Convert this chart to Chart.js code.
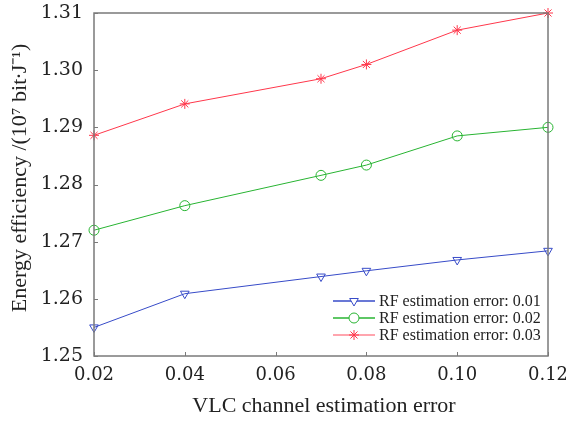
<!DOCTYPE html>
<html>
<head>
<meta charset="utf-8">
<script src="https://cdn.jsdelivr.net/npm/chart.js@4.4.0/dist/chart.umd.min.js"></script>
<style>
  html, body { margin: 0; padding: 0; background: #fff; }
  #wrap { width: 566px; height: 421px; }
</style>
</head>
<body>
<div id="wrap"><canvas id="myChart" width="566" height="421"></canvas></div>
<script>
// x values (VLC channel estimation error)
const xValues = [0.02, 0.04, 0.07, 0.08, 0.10, 0.12];
// energy efficiency per RF estimation error
const rf001 = [1.2550, 1.2609, 1.2639, 1.2649, 1.2668, 1.2684];
const rf002 = [1.2720, 1.2763, 1.2816, 1.2834, 1.2885, 1.2900];
const rf003 = [1.2886, 1.2941, 1.2985, 1.3010, 1.3070, 1.3100];
const seriesNames = ["RF estimation error: 0.01", "RF estimation error: 0.02", "RF estimation error: 0.03"];
// tick labels
const xTicks = [0.02, 0.04, 0.06, 0.08, 0.10, 0.12];
const yTicks = [1.25, 1.26, 1.27, 1.28, 1.29, 1.30, 1.31];

const FONT = "'DejaVu Serif', serif";
const FONT2 = "'Liberation Serif', serif";
const AXIS = "#7a7a7a";
const COLORS = ["rgb(55, 75, 200)", "rgb(40, 180, 50)", "rgb(255, 55, 75)"];

function toPoints(ys) {
    return xValues.map((x, i) => ({ x: x, y: ys[i] }));
}

const datasets = [
    { label: seriesNames[0], data: toPoints(rf001), borderColor: COLORS[0], pointStyle: "triangle", rotation: 180, pointRadius: 5 },
    { label: seriesNames[1], data: toPoints(rf002), borderColor: COLORS[1], pointStyle: "circle", rotation: 0, pointRadius: 5 },
    { label: seriesNames[2], data: toPoints(rf003), borderColor: COLORS[2], pointStyle: "star", rotation: 0, pointRadius: 5 },
].map((d) => Object.assign(d, {
    borderWidth: 1,
    pointBorderColor: d.borderColor,
    pointBackgroundColor: "rgba(0,0,0,0)",
    pointBorderWidth: 1,
    tension: 0,
    clip: false,
}));

// draws the box, inward ticks, axis titles and the legend
const decor = {
    id: "decor",
    afterDatasetsDraw(chart) {
        const ctx = chart.ctx;
        const a = chart.chartArea;
        const xs = chart.scales.x, ys = chart.scales.y;
        ctx.save();
        ctx.strokeStyle = AXIS;
        ctx.lineWidth = 1.5;
        ctx.strokeRect(a.left, a.top, a.right - a.left, a.bottom - a.top);
        ctx.lineWidth = 1;
        ctx.beginPath();
        xTicks.forEach((v) => {
            const px = Math.round(xs.getPixelForValue(v)) + 0.5;
            ctx.moveTo(px, a.bottom); ctx.lineTo(px, a.bottom - 4);
        });
        yTicks.forEach((v) => {
            const py = Math.round(ys.getPixelForValue(v)) + 0.5;
            ctx.moveTo(a.left, py); ctx.lineTo(a.left + 4, py);
        });
        ctx.stroke();

        // axis titles
        ctx.fillStyle = "#222";
        ctx.font = "22px " + FONT2;
        ctx.textAlign = "center";
        ctx.textBaseline = "middle";
        ctx.fillText("VLC channel estimation error", 324, 406);
        ctx.save();
        ctx.translate(20, 178);
        ctx.rotate(-Math.PI / 2);
        ctx.fillText("Energy efficiency /(10\u2077 bit\u2219J\u207B\u00B9)", 0, 0);
        ctx.restore();

        // legend
        ctx.font = "16px " + FONT2;
        ctx.textAlign = "left";
        const rows = [301, 318, 335];
        chart.data.datasets.forEach((d, i) => {
            const y = rows[i];
            ctx.strokeStyle = i === 2 ? "rgba(255, 55, 75, 0.6)" : d.borderColor;
            ctx.lineWidth = 1.5;
            ctx.beginPath();
            ctx.moveTo(333, y); ctx.lineTo(375, y);
            ctx.stroke();
            ctx.lineWidth = 1;
            ctx.strokeStyle = d.borderColor;
            ctx.fillStyle = "#fff";
            Chart.helpers.drawPoint(ctx, { pointStyle: d.pointStyle, rotation: d.rotation, radius: 5, borderWidth: 1 }, 354, y);
            ctx.fillStyle = "#222";
            ctx.fillText(d.label, 379, y + 1);
        });
        ctx.restore();
    },
};

const config = {
    type: "line",
    data: { datasets: datasets },
    options: {
        responsive: false,
        animation: false,
        layout: { padding: { top: 13, right: 18, left: 0, bottom: 0 } },
        plugins: { legend: { display: false }, tooltip: { enabled: false } },
        scales: {
            x: {
                type: "linear",
                min: 0.02,
                max: 0.12,
                afterBuildTicks: (s) => { s.ticks = xTicks.map((v) => ({ value: v })); },
                afterFit: (s) => { s.height = 65; s.paddingRight = 0; s.paddingLeft = 0; },
                grid: { display: false },
                border: { display: false },
                ticks: {
                    color: "#222",
                    padding: 1,
                    maxRotation: 0,
                    font: { family: FONT, size: 18 },
                    callback: (v) => Number(v).toFixed(2),
                },
            },
            y: {
                min: 1.25,
                max: 1.31,
                afterBuildTicks: (s) => { s.ticks = yTicks.map((v) => ({ value: v })); },
                afterFit: (s) => { s.width = 94; s.paddingTop = 0; s.paddingBottom = 0; },
                grid: { display: false },
                border: { display: false },
                ticks: {
                    color: "#222",
                    padding: 3,
                    font: { family: FONT, size: 19 },
                    callback: (v) => Number(v).toFixed(2),
                },
            },
        },
    },
    plugins: [decor],
};

window.onload = function () {
    const ctx = document.getElementById("myChart").getContext("2d");
    window.graph = new Chart(ctx, config);
};
</script>
</body>
</html>
